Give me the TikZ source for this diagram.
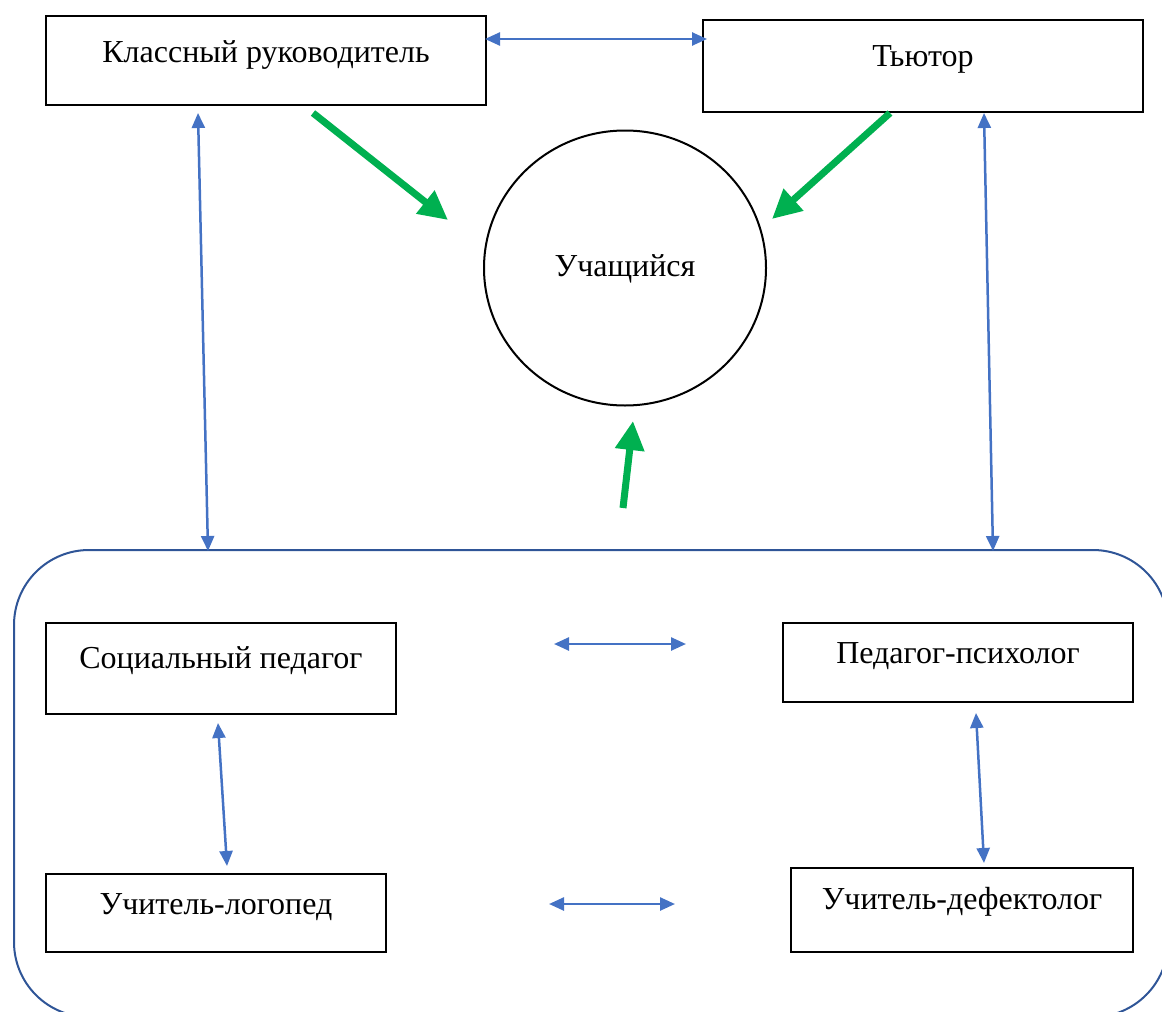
\documentclass[tikz,border=0pt]{standalone}
\usepackage{fontspec}
\setmainfont{Liberation Serif}
\usepackage{tikz}
\usetikzlibrary{positioning,arrows.meta,shapes.geometric}

\definecolor{linkblue}{HTML}{4472C4}
\definecolor{pushgreen}{HTML}{00B050}
\definecolor{teamblue}{HTML}{2F5597}
\newcommand{\rolefont}{\fontsize{32pt}{38pt}\selectfont}

\begin{document}
\begin{tikzpicture}[x=1pt, y=-1pt,
    every node/.style={font=\rolefont},
    rolebox/.style={draw, line width=2pt, inner sep=0pt, anchor=north west},
    link/.style={{Triangle[length=15pt,width=13pt]}-{Triangle[length=15pt,width=13pt]}, line width=2.5pt, draw=linkblue, fill=linkblue},
    push/.style={-{Triangle[length=29pt,width=28pt]}, line width=7pt, draw=pushgreen, fill=pushgreen}]
                \useasboundingbox (0,0) rectangle (1162,1012);
                \clip (0,0) rectangle (1162,1012);

                % staff around the pupil
                \node[rolebox, minimum width=440pt, text height=46pt, text depth=43pt] (teacher) at (45,15) {Классный руководитель};
                \node[rolebox, minimum width=440pt, text height=46pt, text depth=46pt] (tutor) at (702,19) {Тьютор};
                \node[ellipse, draw, line width=2pt, inner sep=0pt, minimum width=282pt, minimum height=275pt,
                      text height=30pt, text depth=14pt] (pupil) at (625,268) {Учащийся};

                % support team
                \node[draw=teamblue, line width=2pt, rounded corners=75pt, anchor=north west,
                      minimum width=1154pt, minimum height=467pt] (team) at (13,549) {};
                \node[rolebox, minimum width=350pt, text height=45pt, text depth=46pt] (social) at (45,622) {Социальный педагог};
                \node[rolebox, minimum width=350pt, text height=40pt, text depth=39pt] (psych) at (782,622) {Педагог-психолог};
                \node[rolebox, minimum width=340pt, text height=40pt, text depth=38pt] (speech) at (45,873) {Учитель-логопед};
                \node[rolebox, minimum width=342pt, text height=41pt, text depth=43pt] (defect) at (790,867) {Учитель-дефектолог};

                % arrow ends
                \coordinate (teacherR) at (485,39);
                \coordinate (tutorL) at (707,39);
                \coordinate (teacherB) at (198,113);
                \coordinate (teamL) at (208,551);
                \coordinate (tutorB) at (984,113);
                \coordinate (teamR) at (993,551);
                \coordinate (midL1) at (554,644);
                \coordinate (midR1) at (686,644);
                \coordinate (midL2) at (549,904);
                \coordinate (midR2) at (675,904);
                \coordinate (socialB) at (218,723);
                \coordinate (speechT) at (227,866);
                \coordinate (psychB) at (976,713);
                \coordinate (defectT) at (984,863);
                \coordinate (g1) at (313,113);
                \coordinate (g1e) at (448,220);
                \coordinate (g2) at (890,113);
                \coordinate (g2e) at (772,219);
                \coordinate (g3) at (623,508);
                \coordinate (g3e) at (633,421);

                \path
                    (teacherR) edge[link] (tutorL)
                    (teacherB) edge[link] (teamL)
                    (tutorB) edge[link] (teamR)
                    (midL1) edge[link] (midR1)
                    (midL2) edge[link] (midR2)
                    (socialB) edge[link] (speechT)
                    (psychB) edge[link] (defectT)
                    (g1) edge[push] (g1e)
                    (g2) edge[push] (g2e)
                    (g3) edge[push] (g3e)
                    ;
            \end{tikzpicture}
\end{document}
